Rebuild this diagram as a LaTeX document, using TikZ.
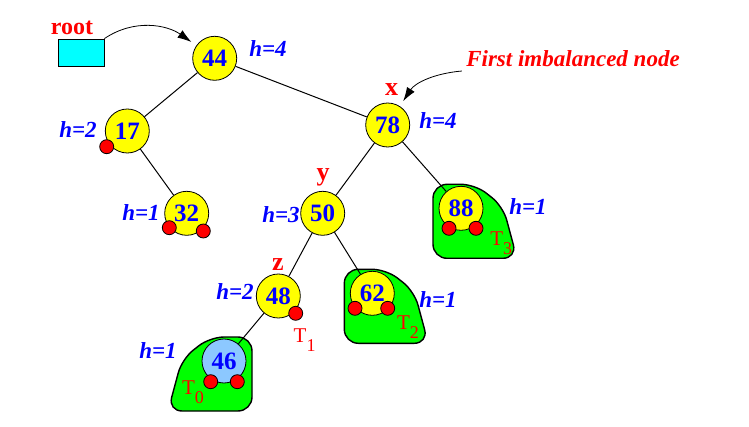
\documentclass[tikz,border=0pt]{standalone}
\usepackage{fontspec}
\setmainfont{Liberation Serif}
\usepackage{tikz}
\usetikzlibrary{positioning}
\usetikzlibrary{arrows.meta, backgrounds}
\usepackage{xcolor}
\definecolor{leafgreen}{RGB}{0,255,0}
\definecolor{paleblue}{RGB}{140,200,255}
\definecolor{boxcyan}{RGB}{0,255,255}
\definecolor{nodeyellow}{RGB}{255,255,0}
\definecolor{tagred}{RGB}{255,0,0}
\definecolor{keyblue}{RGB}{0,0,255}

\tikzset{subtree/.pic = {\draw[fill=leafgreen, line width=0.7pt, rounded corners=7pt] (-28,-24) -- (14,-24) -- (42,-2) -- (56,50) -- (-28,50) -- cycle;}}

\begin{document}
\begin{tikzpicture}[x=0.5pt, y=-0.5pt,
  main/.style = {draw, circle, fill=nodeyellow, minimum size=22pt, inner sep=0pt, text=keyblue, font=\fontsize{12.5}{14}\selectfont\bfseries},
  dot/.style = {draw, circle, fill=tagred, minimum size=7pt, inner sep=0pt},
  ht/.style = {text=keyblue, inner sep=0pt, font=\fontsize{11.5}{13}\selectfont\bfseries\itshape},
  tag/.style = {text=tagred, inner sep=0pt, font=\fontsize{13}{15}\selectfont\bfseries},
  sub/.style = {text=tagred, inner sep=0pt, anchor=north west, font=\fontsize{10.5}{12}\selectfont},
  tip/.style = {-{Latex[length=7pt, width=4.5pt]}, shorten >=3pt}]
\useasboundingbox (0,0) rectangle (749,427);
% root pointer
\node[draw, fill=boxcyan, minimum width=23pt, minimum height=13.5pt, inner sep=0pt] (root) at (81,52.5) {};
\node[tag, font=\fontsize{12}{14}\selectfont\bfseries] (rootlbl) at (72,28) {root};
% tree
\node[main] (44) at (214.7,58.3) {44};
\node[main] (17) at (127.3,131) {17};
\node[main] (78) at (387.7,125) {78};
\node[main] (32) at (186.7,213.3) {32};
\node[main] (50) at (322.7,213.3) {50};
\node[main] (88) at (461,208.3) {88};
\node[main] (48) at (278.3,296) {48};
\node[main] (62) at (372.3,293.3) {62};
\node[main, fill=paleblue] (46) at (224,361) {46};
\begin{scope}[on background layer]
\pic at (88) {subtree};
\pic at (62) {subtree};
\pic[xscale=-1] at (46) {subtree};
\end{scope}
\path[line width=0.5pt] (44) edge (17) (44) edge (78) (17) edge (32) (78) edge (50) (78) edge (88) (50) edge (48) (50) edge (62) (48) edge (46);
% empty children
\node[dot] (d17) at (106.7,146.7) {};
\node[dot] (d32a) at (169.3,227.7) {};
\node[dot] (d32b) at (203.3,231) {};
\node[dot] (d48) at (295.7,313.3) {};
\node[dot] (d62a) at (355,308.3) {};
\node[dot] (d62b) at (387.7,308.3) {};
\node[dot] (d88a) at (449,228.3) {};
\node[dot] (d88b) at (476,228.3) {};
\node[dot] (d46a) at (210.7,381.7) {};
\node[dot] (d46b) at (237.3,381.7) {};
% heights
\node[ht] (h44) at (268,49) {h=4};
\node[ht] (h17) at (78,130) {h=2};
\node[ht] (h78) at (438,121) {h=4};
\node[ht] (h32) at (141,213) {h=1};
\node[ht] (h50) at (281,215) {h=3};
\node[ht] (h88) at (528,207) {h=1};
\node[ht] (h48) at (235,292) {h=2};
\node[ht] (h62) at (438,300) {h=1};
\node[ht] (h46) at (158,351) {h=1};
% x, y, z
\node[tag] (x) at (391.7,90) {x};
\node[tag] (y) at (323,177) {y};
\node[tag] (z) at (278,265) {z};
\node[text=tagred, inner sep=2pt, font=\fontsize{11.5}{13}\selectfont\bfseries\itshape] (imb) at (573,58.5) {First imbalanced node};
% subtrees
\node[sub] (T0) at (181.7,380) {T\raisebox{-4.5pt}{\fontsize{9}{10}\selectfont 0}};
\node[sub] (T1) at (293.3,328.3) {T\raisebox{-4.5pt}{\fontsize{9}{10}\selectfont 1}};
\node[sub] (T2) at (396.7,315) {T\raisebox{-4.5pt}{\fontsize{9}{10}\selectfont 2}};
\node[sub] (T3) at (490,231.7) {T\raisebox{-4.5pt}{\fontsize{9}{10}\selectfont 3}};
% pointers
\draw[tip] (root.north east) to[out=34, in=145] (44);
\draw[tip] (imb.south west) to[out=185, in=57] (78);
\end{tikzpicture}
\end{document}
